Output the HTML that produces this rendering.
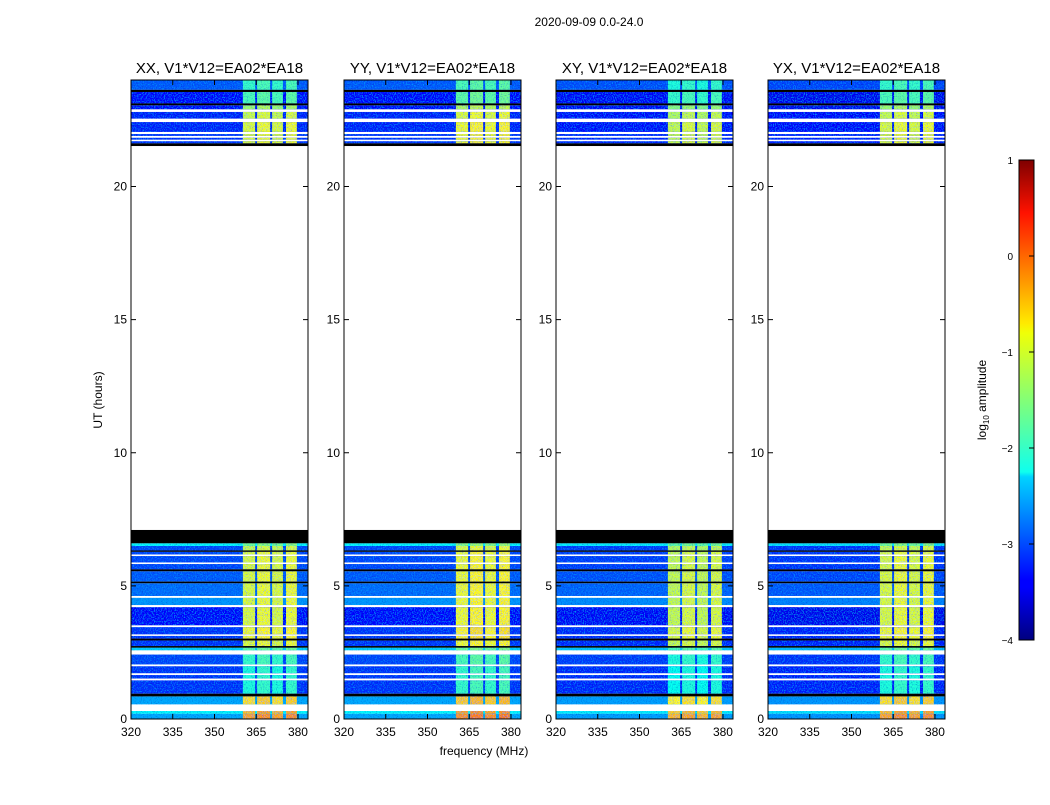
<!DOCTYPE html>
<html><head><meta charset="utf-8">
<style>
body{margin:0;background:#fff;}
svg text{font-family:"Liberation Sans",sans-serif;fill:#000;}
</style></head>
<body>
<svg id="fig" width="1050" height="800" viewBox="0 0 1050 800" xmlns="http://www.w3.org/2000/svg">
<defs>
<filter id="noise" x="0" y="0" width="100%" height="100%">
<feTurbulence type="fractalNoise" baseFrequency="0.9 0.7" numOctaves="1" seed="3" result="t"/>
<feColorMatrix in="t" type="matrix" values="0 0 0 0 0  0 0 0 0 0.5  0 0 0 0 0.9  0 0 0 2.0 -1.0" result="n"/>
<feComposite in="n" in2="SourceGraphic" operator="in" result="nc"/>
<feTurbulence type="fractalNoise" baseFrequency="0.8 0.9" numOctaves="1" seed="9" result="t2"/>
<feColorMatrix in="t2" type="matrix" values="0 0 0 0 0  0 0 0 0 0  0 0 0 0 0.5  0 0 0 2.0 -1.0" result="n2"/>
<feComposite in="n2" in2="SourceGraphic" operator="in" result="nc2"/>
<feMerge><feMergeNode in="SourceGraphic"/><feMergeNode in="nc"/><feMergeNode in="nc2"/></feMerge>
</filter>
<linearGradient id="jet" x1="0" y1="1" x2="0" y2="0">
<stop offset="0" stop-color="#00007f"/><stop offset="0.11" stop-color="#0000ff"/>
<stop offset="0.125" stop-color="#0000ff"/><stop offset="0.34" stop-color="#00d4ff"/>
<stop offset="0.35" stop-color="#0fffee"/><stop offset="0.64" stop-color="#f0ff07"/>
<stop offset="0.66" stop-color="#ffea00"/><stop offset="0.89" stop-color="#ff1200"/>
<stop offset="1" stop-color="#7f0000"/>
</linearGradient>
</defs>
<text x="589" y="26" font-size="12" text-anchor="middle">2020-09-09 0.0-24.0</text>
<g id="panels"></g>
<text transform="translate(102,400) rotate(-90)" font-size="12" text-anchor="middle">UT (hours)</text>
<text x="484" y="755" font-size="12" text-anchor="middle">frequency (MHz)</text>
<g>
<rect x="1019" y="160" width="15" height="480" fill="url(#jet)" stroke="#000" stroke-width="1"/>
<g id="cbticks"></g>
<text transform="translate(986,400) rotate(-90)" font-size="12" text-anchor="middle">log<tspan font-size="8" dy="3">10</tspan><tspan dy="-3"> amplitude</tspan></text>
</g>
</svg>
<script>
// time bands (hours). band i spans bandStart[i] .. bandStart[i+1] (last ends at 24)
// 'W' = blank (no data), 'K' = flagged (black)
const bandStart = [0,0.2,0.3,0.55,0.85,0.95,1.45,1.52,1.65,1.72,1.98,2.05,2.42,2.58,2.68,2.74,2.95,3.02,3.12,3.18,3.45,3.52,4.2,4.28,4.55,4.62,5.1,5.16,5.55,5.62,5.82,5.88,6.12,6.18,6.28,6.33,6.5,6.6,7.1,21.52,21.62,21.7,21.76,21.83,21.9,21.97,22.05,22.42,22.55,22.8,22.9,23.05,23.12,23.55,23.63];
const bandBase = [-2.4,-2.0,'W',-2.4,'K',-3.0,'W',-3.0,'W',-3.0,'W',-2.9,'W',-2.2,'K',-3.0,'K',-3.0,'W',-3.0,'W',-3.2,'W',-2.5,'W',-2.7,'K',-2.8,'K',-2.9,'W',-2.9,'W',-2.9,'K',-2.9,-2.0,'K','W','K',-3.0,'W',-3.0,'W',-3.0,'W',-3.1,'W',-3.1,'W',-3.2,'K',-3.2,'K',-2.8];
const bandRfi = [-0.3,-0.4,null,-0.6,null,-1.8,null,-1.8,null,-1.8,null,-1.7,null,-1.5,null,-0.9,null,-0.8,null,-0.8,null,-0.9,null,-0.9,null,-0.9,null,-0.9,null,-0.9,null,-0.9,null,-0.9,null,-1.0,-1.4,null,null,null,-0.9,null,-0.9,null,-0.9,null,-0.9,null,-1.0,null,-1.2,null,-1.6,null,-1.7];
// RFI channel blocks (MHz)
const rfiLo = [360.2,365.3,370.7,375.7];
const rfiHi = [364.6,370.0,374.6,379.6];
const panelNames = ["XX","YY","XY","YX"];
const panelRfiOffset = [-0.1,0,-0.2,-0.1];
const panelBaseOffset = [-0.15,-0.15,-0.2,-0.25];
const yTicks = [0,5,10,15,20];
const xTicks = [320,335,350,365,380];
const cbTicks = [1,0,-1,-2,-3,-4];

const panelX0 = [131,344,556,768];
const PW = 177, Y0 = 80, Y1 = 719, FMIN = 320, FMAX = 383.6;
const NS = "http://www.w3.org/2000/svg";
function yS(h){return Y1 - h/24*(Y1-Y0);}
function jet(v){
  let t=(v+4)/5; t=Math.max(0,Math.min(1,t));
  const f=x=>Math.max(0,Math.min(1,x));
  const r=f(1.5-Math.abs(4*t-3)), g=f(1.5-Math.abs(4*t-2)), b=f(1.5-Math.abs(4*t-1));
  return `rgb(${Math.round(r*255)},${Math.round(g*255)},${Math.round(b*255)})`;
}
function mk(tag,attrs,parent){const e=document.createElementNS(NS,tag);for(const k in attrs)e.setAttribute(k,attrs[k]);parent.appendChild(e);return e;}
const root=document.getElementById('panels');
panelNames.forEach((nm,p)=>{
  const x0=panelX0[p];
  const xS=f=>x0+(f-FMIN)/(FMAX-FMIN)*PW;
  const g=mk('g',{},root);
  
  
  const dg=mk('g',{filter:'url(#noise)'},g);
  
  
  const og=mk('g',{},g);
  for(let i=0;i<bandStart.length;i++){
    const end = i+1<bandStart.length ? bandStart[i+1] : 24;
    const ya=yS(end), yb=yS(bandStart[i]);
    const b=bandBase[i];
    if(b==='W') continue;
    const tgt = b==='K'?og:dg;
    const r=mk('rect',{x:x0,y:ya,width:PW,height:yb-ya,fill:b==='K'?'#000':jet(b+panelBaseOffset[p])},tgt);
    
    
    if(b!=='K' && bandRfi[i]!==null){
      for(let c=0;c<rfiLo.length;c++){
        const rr=mk('rect',{x:xS(rfiLo[c]),y:ya,width:xS(rfiHi[c])-xS(rfiLo[c]),height:yb-ya,fill:jet(bandRfi[i]+panelRfiOffset[p]+(c%2?0.05:-0.05))},dg);
        
        
      }
    }
  }
  const fr=mk('rect',{x:x0,y:Y0,width:PW,height:Y1-Y0,fill:'none',stroke:'#000','stroke-width':1},g);
  
  
  const t=mk('text',{x:x0+PW/2,y:73,'font-size':15,'text-anchor':'middle'},g);
  t.textContent=nm+', V1*V12=EA02*EA18';
  
  
  yTicks.forEach(v=>{
    const y=yS(v);
    mk('line',{x1:x0,x2:x0+5,y1:y,y2:y,stroke:'#000'},g);
    mk('line',{x1:x0+PW-5,x2:x0+PW,y1:y,y2:y,stroke:'#000'},g);
    const l=mk('text',{x:x0-4,y:y+4,'font-size':12,'text-anchor':'end'},g);
    l.textContent=v;
    
    
  });
  xTicks.forEach(v=>{
    const x=xS(v);
    mk('line',{x1:x,x2:x,y1:Y1,y2:Y1-5,stroke:'#000'},g);
    mk('line',{x1:x,x2:x,y1:Y0,y2:Y0+5,stroke:'#000'},g);
    const l=mk('text',{x:x,y:Y1+17,'font-size':12,'text-anchor':'middle'},g);
    l.textContent=v;
    
    
  });
});
const cbt=document.getElementById('cbticks');
cbTicks.forEach(v=>{
  const y=160+(1-v)/5*480;
  mk('line',{x1:1029,x2:1034,y1:y,y2:y,stroke:'#000'},cbt);
  const l=mk('text',{x:1013,y:y+4,'font-size':10,'text-anchor':'end'},cbt);
  l.textContent=v<0?'\u2212'+(-v):v;
  
  
});
</script>
</body></html>
